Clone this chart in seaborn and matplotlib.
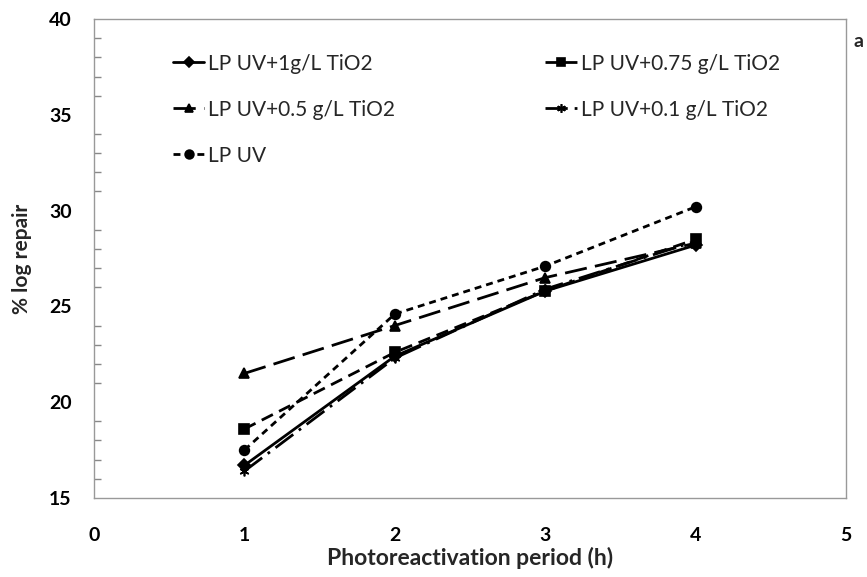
import seaborn as sns
import matplotlib.pyplot as plt
import pandas as pd

sns.set_style("white")
plt.rcParams['font.family'] = ['Lato', 'DejaVu Sans']

# Data
hours = [1, 2, 3, 4]
tio2_1 = [16.7, 22.4, 25.8, 28.2]
tio2_075 = [18.6, 22.6, 25.8, 28.5]
tio2_05 = [21.5, 24.0, 26.5, 28.3]
tio2_01 = [16.4, 22.3, 25.9, 28.4]
lp_uv = [17.5, 24.6, 27.1, 30.2]

series = [
    ("LP UV+1g/L TiO2", tio2_1, "D", (None, None)),
    ("LP UV+0.5 g/L TiO2", tio2_05, "^", (8, 3)),
    ("LP UV", lp_uv, "o", (2.5, 1.8)),
    ("LP UV+0.75 g/L TiO2", tio2_075, "s", (4.5, 2.5)),
    ("LP UV+0.1 g/L TiO2", tio2_01, (6, 2, 0), (8, 2.5, 1, 2.5)),
]

fig = plt.figure(figsize=(8.67, 5.77), dpi=100)
ax = fig.add_axes([0.1084, 0.137, 0.8674, 0.830])

for label, vals, mk, dash in series:
    df = pd.DataFrame({"h": hours, "v": vals})
    sns.lineplot(data=df, x="h", y="v", ax=ax, color="black", marker=mk,
                 markersize=7 if mk != "D" else 6, markeredgecolor="black",
                 markeredgewidth=1.2, linewidth=2, label=label)
    l = ax.lines[-1]
    if dash[0] is not None:
        l.set_dashes(dash)

ax.set_xlim(0, 5)
ax.set_ylim(15, 40)
ax.set_xticks(range(0, 6))
ax.set_yticks(range(15, 41, 5))
ax.set_yticks(range(15, 41), minor=True)
ax.tick_params(axis="both", which="both", direction="in", colors="#888888",
               labelcolor="black", labelsize=14)
ax.tick_params(axis="y", which="major", length=6, width=1)
ax.tick_params(axis="y", which="minor", length=5, width=1, left=True)
ax.tick_params(axis="x", which="major", length=6, pad=21)
ax.tick_params(axis="y", which="major", pad=16)
plt.setp(ax.get_xticklabels() + ax.get_yticklabels(), fontweight="bold")
for sp in ax.spines.values():
    sp.set_color("#999999")
    sp.set_linewidth(1)

ax.set_xlabel("Photoreactivation period (h)", fontsize=16.5, fontweight="bold", labelpad=2)
ax.set_ylabel("% log repair", fontsize=15, fontweight="bold", labelpad=12)

ax.legend(loc="upper left", bbox_to_anchor=(0.08, 0.967), ncol=2, frameon=False,
          fontsize=15, handlelength=1.5, handletextpad=0.2, columnspacing=7.2,
          labelspacing=1.25, markerscale=0.9)

fig.text(0.985, 0.918, "a", fontsize=14, fontweight="bold", ha="left")

plt.savefig("out.png", dpi=100)
